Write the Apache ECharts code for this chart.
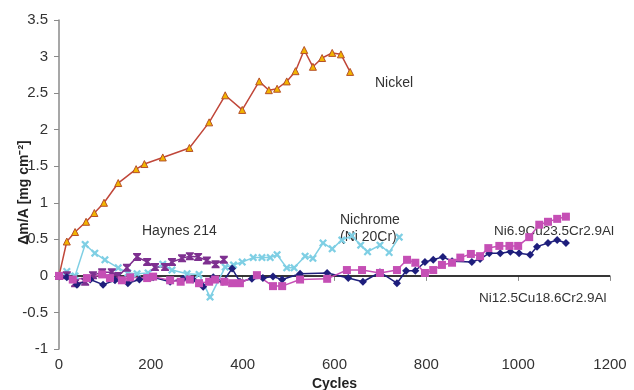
<!DOCTYPE html>
<html>
<head>
<meta charset="utf-8">
<script src="https://cdn.jsdelivr.net/npm/echarts@6/dist/echarts.min.js"></script>
<style>html,body{margin:0;padding:0;background:#fff}#c{width:634px;height:390px}</style>
</head>
<body>
<div id="c"></div>
<script>
// [cycles, Δm/A]
var nickel = [[0,0],[17,0.47],[35,0.6],[59,0.74],[77,0.86],[98,1.0],[129,1.27],[168,1.46],[186,1.53],[226,1.62],[284,1.75],[327,2.1],[362,2.47],[399,2.27],[436,2.66],[457,2.54],[475,2.56],[496,2.66],[515,2.8],[534,3.09],[553,2.86],[573,2.98],[595,3.05],[614,3.03],[634,2.79]];
var nichrome = [[0,0],[17,0.06],[35,0.0],[57,0.43],[78,0.31],[100,0.22],[129,0.11],[150,0.04],[170,0.03],[194,0.04],[226,0.16],[246,0.08],[279,0.03],[305,0.02],[329,-0.29],[362,0.12],[380,0.15],[399,0.19],[423,0.25],[442,0.25],[460,0.25],[475,0.29],[496,0.11],[512,0.11],[536,0.27],[553,0.24],[575,0.45],[595,0.37],[616,0.49],[638,0.55],[657,0.42],[672,0.33],[699,0.42],[719,0.32],[741,0.53]];
var haynes = [[0,0],[17,0.01],[35,-0.1],[57,-0.08],[74,0.01],[94,0.05],[115,0.05],[129,0.0],[148,0.11],[170,0.26],[192,0.19],[209,0.12],[231,0.12],[246,0.19],[268,0.24],[285,0.27],[303,0.26],[322,0.21],[341,0.16],[359,0.22]];
var niCu18 = [[0,0],[17,-0.02],[39,-0.12],[68,-0.05],[96,-0.12],[122,-0.06],[150,-0.1],[175,-0.05],[205,-0.02],[242,-0.08],[270,-0.04],[292,-0.05],[314,-0.15],[336,-0.02],[357,-0.08],[377,0.1],[394,-0.08],[420,-0.04],[444,-0.03],[466,-0.01],[486,-0.05],[525,0.03],[584,0.04],[630,-0.03],[662,-0.08],[699,0.05],[736,-0.1],[756,0.07],[776,0.07],[797,0.19],[815,0.22],[836,0.26],[856,0.2],[899,0.19],[917,0.23],[937,0.31],[961,0.31],[983,0.33],[1002,0.31],[1026,0.29],[1041,0.4],[1065,0.45],[1085,0.49],[1104,0.45]];
var niCu23 = [[0,0],[30,-0.05],[61,-0.03],[94,0.02],[111,-0.03],[137,-0.06],[155,-0.02],[192,-0.03],[205,-0.01],[242,-0.06],[265,-0.08],[285,-0.05],[305,-0.1],[327,-0.08],[340,-0.05],[360,-0.08],[377,-0.1],[394,-0.1],[431,0.01],[466,-0.14],[486,-0.14],[525,-0.05],[584,-0.04],[627,0.08],[660,0.08],[699,0.04],[736,0.08],[758,0.22],[776,0.18],[797,0.04],[815,0.08],[834,0.15],[856,0.18],[874,0.25],[897,0.3],[917,0.27],[935,0.38],[959,0.41],[981,0.41],[1000,0.41],[1024,0.53],[1046,0.7],[1065,0.74],[1085,0.78],[1104,0.81]];
var zeroLine = [[0,0],[1200,0]];

var xSym = 'path://M0,2 L2,0 L5,3 L8,0 L10,2 L7,5 L10,8 L8,10 L5,7 L2,10 L0,8 L3,5 Z';
var hourglass = 'path://M0,0 L10,0 L10,1.8 L6.6,5 L10,8.2 L10,10 L0,10 L0,8.2 L3.4,5 L0,1.8 Z';

var chart = echarts.init(document.getElementById('c'), null, {renderer:'canvas'});
var font = 'Liberation Sans, Arial, sans-serif';
function ser(name, data, color, symbol, size, lineColor, border){
  return {name:name, type:'line', data:data, symbol:symbol, symbolSize:size, animation:false,
    lineStyle:{color:lineColor||color, width:1.5},
    itemStyle:{color:color, borderColor:border||color, borderWidth:border?1:0}};
}
chart.setOption({
  backgroundColor:'#fff',
  animation:false,
  grid:{left:59, right:24, top:20, bottom:41, containLabel:false, outerBoundsMode:'none'},
  xAxis:{type:'value', min:0, max:1200, interval:200,
    name:'Cycles', nameLocation:'middle', nameGap:27,
    nameTextStyle:{fontFamily:font, fontWeight:'bold', fontSize:14, color:'#222'},
    axisLine:{show:true, lineStyle:{color:'#8a8a8a', width:1.5}},
    axisTick:{show:true, length:5, lineStyle:{color:'#8a8a8a'}},
    axisLabel:{fontFamily:font, fontSize:15, color:'#333', margin:8, formatter:function(v){return String(v);}},
    splitLine:{show:false}},
  yAxis:{type:'value', min:-1, max:3.5, interval:0.5,
    name:'Δm/A [mg cm⁻²]', nameLocation:'middle', nameGap:28, nameRotate:90, nameMoveOverlap:false,
    nameTextStyle:{fontFamily:font, fontWeight:'bold', fontSize:14, color:'#222', padding:[0,16,0,0]},
    axisLine:{show:true, onZero:false, lineStyle:{color:'#8a8a8a', width:1.5}},
    axisTick:{show:true, length:5, lineStyle:{color:'#8a8a8a'}},
    axisLabel:{fontFamily:font, fontSize:15, color:'#333', margin:11, formatter:function(v){return String(v);}},
    splitLine:{show:false}},
  series:[
    {type:'line', data:zeroLine, symbol:'none', lineStyle:{color:'#111', width:1.5}, z:1, silent:true},
    ser('Nickel', nickel, '#F2B400', 'triangle', 7, '#C0473A', '#B5502A'),
    ser('Nichrome (Ni 20Cr)', nichrome, '#7FCFE4', xSym, 8),
    ser('Haynes 214', haynes, '#7E3090', hourglass, 8),
    ser('Ni12.5Cu18.6Cr2.9Al', niCu18, '#1E1E7C', 'diamond', 8),
    ser('Ni6.9Cu23.5Cr2.9Al', niCu23, '#C54FB5', 'rect', 8)
  ],
  graphic:[
    {type:'text', left:375, top:76, style:{text:'Nickel', fontFamily:font, fontSize:14, fill:'#333'}},
    {type:'text', left:142, top:224, style:{text:'Haynes 214', fontFamily:font, fontSize:14, fill:'#333'}},
    {type:'text', left:340, top:212, style:{text:'Nichrome\n(Ni 20Cr)', fontFamily:font, fontSize:14, lineHeight:17, fill:'#333'}},
    {type:'text', left:494, top:224, style:{text:'Ni6.9Cu23.5Cr2.9Al', fontFamily:font, fontSize:13.5, fill:'#333'}},
    {type:'text', left:479, top:291, style:{text:'Ni12.5Cu18.6Cr2.9Al', fontFamily:font, fontSize:13.5, fill:'#333'}}
  ]
});
</script>
</body>
</html>
